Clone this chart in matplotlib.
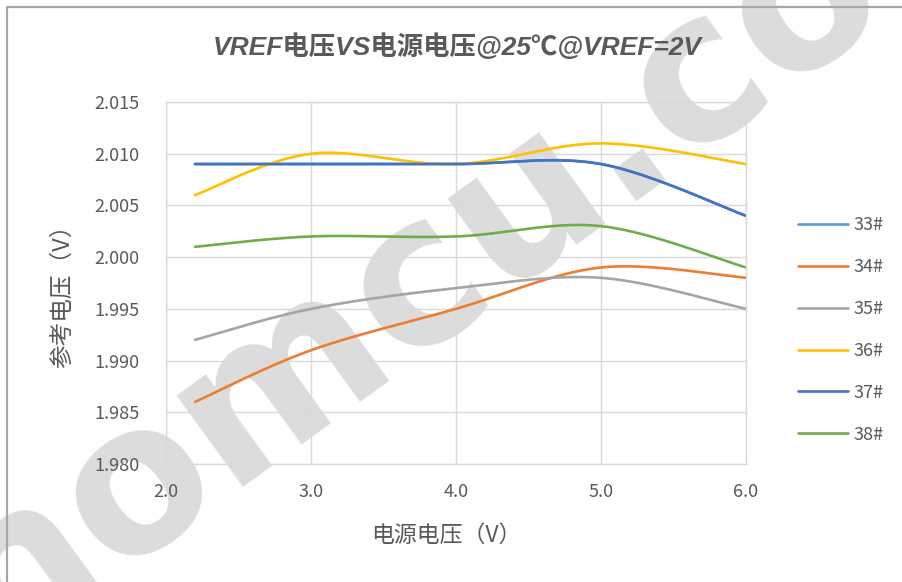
import numpy as np
import matplotlib
matplotlib.use("Agg")
import matplotlib.pyplot as plt
from matplotlib.lines import Line2D

plt.rcParams['font.family'] = ['Noto Sans CJK SC', 'DejaVu Sans']

# supply voltage (V) and reference voltage (V) per sample
supply_v = [2.2, 3.0, 4.0, 5.0, 6.0]
s33 = [2.009, 2.009, 2.009, 2.009, 2.004]
s34 = [1.986, 1.991, 1.995, 1.999, 1.998]
s35 = [1.992, 1.995, 1.997, 1.998, 1.995]
s36 = [2.006, 2.010, 2.009, 2.011, 2.009]
s37 = [2.009, 2.009, 2.009, 2.009, 2.004]
s38 = [2.001, 2.002, 2.002, 2.003, 1.999]
labels = ['33#', '34#', '35#', '36#', '37#', '38#']
colors = ['#5B9BD5', '#ED7D31', '#A5A5A5', '#FFC000', '#4472C4', '#70AD47']
x_ticks = [2.0, 3.0, 4.0, 5.0, 6.0]
y_ticks = [1.980, 1.985, 1.990, 1.995, 2.000, 2.005, 2.010, 2.015]

title = 'VREF电压VS电源电压@25℃@VREF=2V'
x_label = '电源电压（V）'
y_label = '参考电压（V）'
TXT = '#595959'


def smooth(xs, ys, n=40):
    """Cubic Bezier smoothing through the points (spreadsheet-style)."""
    P = np.column_stack([xs, ys]).astype(float)
    out = []
    for i in range(len(P) - 1):
        p0 = P[i - 1] if i > 0 else P[i]
        p3 = P[i + 2] if i + 2 < len(P) else P[i + 1]
        c1 = P[i] + (P[i + 1] - p0) / 6.0
        c2 = P[i + 1] - (p3 - P[i]) / 6.0
        t = np.linspace(0, 1, n)[:, None]
        seg = ((1 - t) ** 3) * P[i] + 3 * ((1 - t) ** 2) * t * c1 \
            + 3 * (1 - t) * t ** 2 * c2 + t ** 3 * P[i + 1]
        out.append(seg if i == 0 else seg[1:])
    return np.vstack(out)


W, H = 902, 582
fig = plt.figure(figsize=(W / 100, H / 100), dpi=100)
fig.patch.set_facecolor('white')

# watermark
fig.text(420 / W, 1 - 280 / H, 'sinomcu.com', fontsize=148, fontweight='bold',
         family='DejaVu Sans', color='#dcdcdc', rotation=36,
         ha='center', va='center', rotation_mode='anchor', zorder=0.5)

# outer chart border (left and top edges)
fig.add_artist(Line2D([7 / W, 7 / W, 1.0], [0.0, 1 - 7 / H, 1 - 7 / H],
                      transform=fig.transFigure, color='#a6a6a6', lw=1.6, zorder=0.6))

ax = fig.add_axes([166 / W, 1 - 464 / H, (746 - 166) / W, (464 - 102) / H])
ax.set_zorder(1)
ax.patch.set_visible(False)

series = [s33, s34, s35, s36, s37, s38]
for vals, lab, col in zip(series, labels, colors):
    pts = smooth(supply_v, vals)
    ax.plot(pts[:, 0], pts[:, 1], color=col, lw=1.9, label=lab,
            solid_capstyle='round')

ax.set_xlim(2.0, 6.0)
ax.set_ylim(1.980, 2.015)
ax.set_xticks(x_ticks)
ax.set_yticks(y_ticks)
ax.set_xticklabels([f'{v:.1f}' for v in x_ticks])
ax.set_yticklabels([f'{v:.3f}' for v in y_ticks])
ax.grid(True, color='#d9d9d9', lw=1.0)
ax.set_axisbelow(True)
for sp in ax.spines.values():
    sp.set_color('#d9d9d9')
    sp.set_linewidth(1.0)
ax.tick_params(length=0, labelsize=13, labelcolor=TXT)
ax.tick_params(axis='y', pad=19)
ax.tick_params(axis='x', pad=14)

fig.text(62 / W, 1 - 290 / H, y_label, rotation=90, ha='center', va='center',
         fontsize=17, color=TXT)
fig.text(446 / W, 1 - 535 / H, x_label, ha='center', va='center',
         fontsize=16.5, color=TXT)
fig.text(457 / W, 1 - 47 / H, title, ha='center', va='center', fontsize=19,
         fontweight='bold', style='italic', color=TXT,
         family=['Liberation Sans', 'Noto Sans CJK SC'])

leg = fig.legend(loc='center left', bbox_to_anchor=(798 / W, 1 - 330 / H),
                 frameon=False, fontsize=13, handlelength=2.75,
                 handletextpad=0.3, labelspacing=1.32, borderpad=0,
                 borderaxespad=0)
for t in leg.get_texts():
    t.set_color(TXT)

fig.savefig('out.png', dpi=100)
